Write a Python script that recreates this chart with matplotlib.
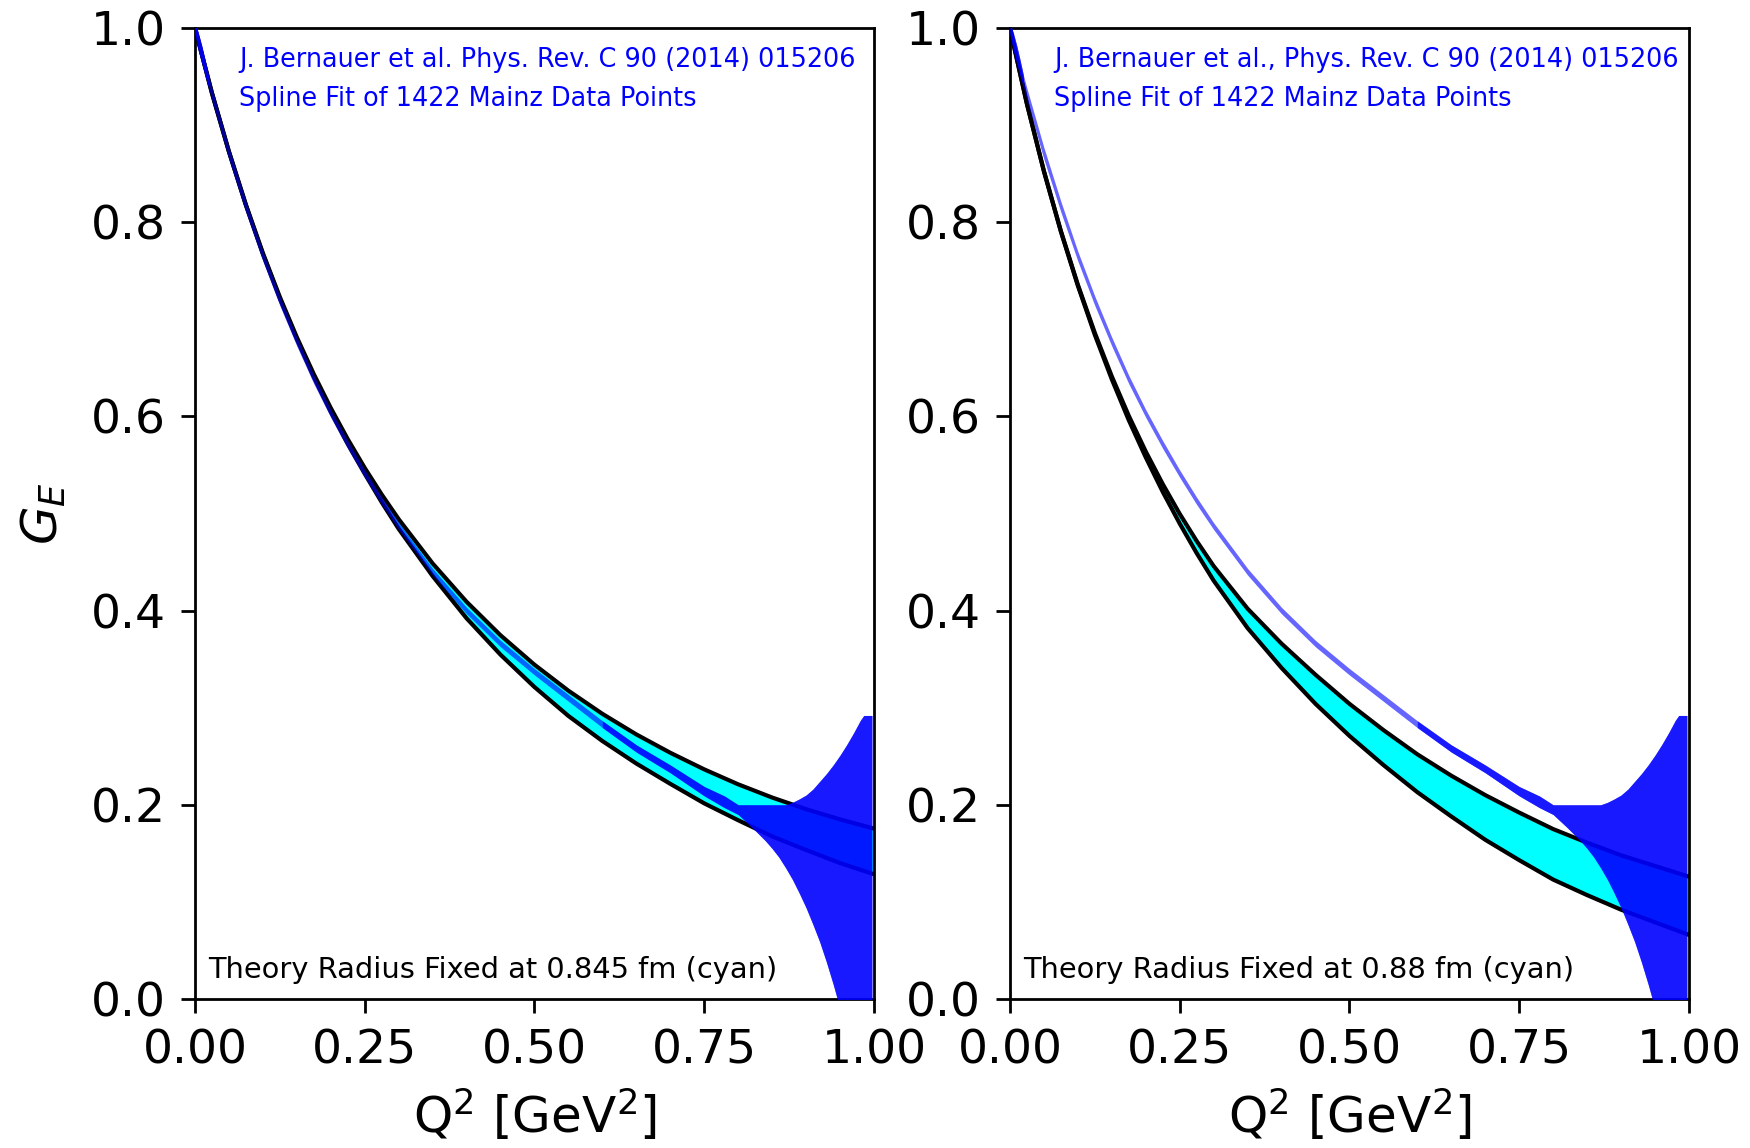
import matplotlib
matplotlib.use("Agg")
import matplotlib.pyplot as plt
from matplotlib.ticker import FormatStrFormatter

# ---------------- data ----------------
# Q^2 grid for the theory bands [GeV^2]
q_th = [0.0, 0.025, 0.05, 0.075, 0.1, 0.125, 0.15, 0.175, 0.2, 0.225, 0.25,
        0.275, 0.3, 0.35, 0.4, 0.45, 0.5, 0.55, 0.6, 0.65, 0.7, 0.75, 0.8,
        0.85, 0.9, 0.95, 1.0]

# theory band, radius fixed at 0.845 fm (left panel)
th845_hi = [1.0, 0.9331, 0.8728, 0.8181, 0.7683, 0.7230, 0.6816, 0.6436,
            0.6087, 0.5766, 0.5470, 0.5196, 0.4942, 0.4486, 0.4091, 0.3746,
            0.3443, 0.3175, 0.2937, 0.2725, 0.2536, 0.2365, 0.2211, 0.2075,
            0.1955, 0.1850, 0.1755]
th845_lo = [1.0, 0.9331, 0.8728, 0.8176, 0.7673, 0.7215, 0.6796, 0.6406,
            0.6047, 0.5716, 0.5410, 0.5116, 0.4842, 0.4356, 0.3921, 0.3546,
            0.3213, 0.2915, 0.2657, 0.2425, 0.2216, 0.2015, 0.1841, 0.1675,
            0.1535, 0.1400, 0.1285]

# theory band, radius fixed at 0.88 fm (right panel)
th880_hi = [1.0, 0.9220, 0.8527, 0.7910, 0.7357, 0.6861, 0.6413, 0.6007,
            0.5639, 0.5304, 0.4997, 0.4717, 0.4459, 0.402, 0.366, 0.334,
            0.304, 0.277, 0.252, 0.230, 0.210, 0.192, 0.175, 0.161, 0.148,
            0.137, 0.126]
th880_lo = [1.0, 0.9220, 0.8527, 0.7905, 0.7347, 0.6841, 0.6383, 0.5962,
            0.5579, 0.5224, 0.4897, 0.4592, 0.4309, 0.382, 0.341, 0.304,
            0.271, 0.241, 0.213, 0.188, 0.164, 0.143, 0.123, 0.107, 0.092,
            0.079, 0.066]

# spline fit of the Mainz data (Bernauer et al.) with its uncertainty band
fit_q = [0.0, 0.005, 0.01, 0.015, 0.02, 0.025, 0.05, 0.075, 0.1, 0.125, 0.15,
         0.175, 0.2, 0.225, 0.25, 0.275, 0.3, 0.35, 0.4, 0.45, 0.5, 0.55,
         0.6, 0.65, 0.7, 0.75, 0.78, 0.80, 0.82, 0.84, 0.85, 0.86, 0.87,
         0.88, 0.89, 0.90, 0.91, 0.92, 0.93, 0.94, 0.95, 0.96, 0.97, 0.98,
         0.985, 0.997]
fit_lo = [0.994, 0.977, 0.964, 0.951, 0.939, 0.926, 0.865, 0.8105, 0.760,
          0.7142, 0.6725, 0.6337, 0.599, 0.567, 0.5372, 0.5093, 0.4835,
          0.4366, 0.3967, 0.3627, 0.3337, 0.3066, 0.2795, 0.2543, 0.233,
          0.2092, 0.197, 0.190, 0.177, 0.163, 0.155, 0.146, 0.135, 0.123,
          0.109, 0.094, 0.077, 0.059, 0.038, 0.015, -0.010, -0.04, -0.07,
          -0.10, -0.12, -0.17]
fit_hi = [1.006, 0.995, 0.982, 0.967, 0.951, 0.938, 0.877, 0.8215, 0.770,
          0.7238, 0.6815, 0.6423, 0.607, 0.575, 0.5448, 0.5167, 0.4905,
          0.4434, 0.4033, 0.3693, 0.3403, 0.3134, 0.2865, 0.2617, 0.241,
          0.2188, 0.209, 0.200, 0.200, 0.200, 0.200, 0.200, 0.200, 0.2025,
          0.206, 0.210, 0.216, 0.224, 0.232, 0.241, 0.251, 0.262, 0.274,
          0.287, 0.292, 0.292]

x_ticks = [0.0, 0.25, 0.5, 0.75, 1.0]
y_ticks = [0.0, 0.2, 0.4, 0.6, 0.8, 1.0]

ref_text = ["J. Bernauer et al. Phys. Rev. C 90 (2014) 015206",
            "J. Bernauer et al., Phys. Rev. C 90 (2014) 015206"]
fit_text = "Spline Fit of 1422 Mainz Data Points"
theory_text = ["Theory Radius Fixed at 0.845 fm (cyan)",
               "Theory Radius Fixed at 0.88 fm (cyan)"]

# ---------------- figure ----------------
plt.rcParams['font.family'] = ['DejaVu Sans']
fig = plt.figure(figsize=(8.75, 5.74), dpi=200)
ax_l = fig.add_axes([0.1114, 0.1298, 0.388, 0.8458])
ax_r = fig.add_axes([0.5771, 0.1298, 0.388, 0.8458])

i_top = fit_q.index(0.02) + 1
i_dark = fit_q.index(0.6)

panels = [(ax_l, th845_lo, th845_hi, ref_text[0], theory_text[0]),
          (ax_r, th880_lo, th880_hi, ref_text[1], theory_text[1])]

for ax, lo, hi, rtxt, ttxt in panels:
    ax.fill_between(q_th, lo, hi, color='cyan', lw=0, zorder=1)
    ax.plot(q_th, hi, color='black', lw=1.5, zorder=2)
    ax.plot(q_th, lo, color='black', lw=1.5, zorder=2)
    ax.fill_between(fit_q, fit_lo, fit_hi, color='blue', alpha=0.6, lw=0,
                    zorder=3)
    ax.fill_between(fit_q[i_dark:], fit_lo[i_dark:], fit_hi[i_dark:],
                    color='blue', alpha=0.75, lw=0, zorder=3)
    ax.fill_between(fit_q[:i_top], fit_lo[:i_top], fit_hi[:i_top],
                    color='blue', alpha=0.75, lw=0, zorder=3)

    ax.set_xlim(0, 1)
    ax.set_ylim(0, 1)
    ax.set_xticks(x_ticks)
    ax.set_yticks(y_ticks)
    ax.xaxis.set_major_formatter(FormatStrFormatter('%.2f'))
    ax.yaxis.set_major_formatter(FormatStrFormatter('%.1f'))
    ax.tick_params(labelsize=17, length=5, width=1.0, pad=5.5)
    for s in ax.spines.values():
        s.set_linewidth(1.0)
    ax.set_xlabel('Q$^2$ [GeV$^2$]', fontsize=18, labelpad=5)

    ax.text(0.065, 0.967, rtxt, transform=ax.transAxes, color='blue',
            fontsize=9.2, ha='left', va='center')
    ax.text(0.065, 0.927, fit_text, transform=ax.transAxes, color='blue',
            fontsize=9.2, ha='left', va='center')
    ax.text(0.0197, 0.030, ttxt, transform=ax.transAxes, color='black',
            fontsize=10.4, ha='left', va='center')

ax_l.set_ylabel('$G_E$', fontsize=18, labelpad=8)

fig.savefig('out.png', dpi=200)
